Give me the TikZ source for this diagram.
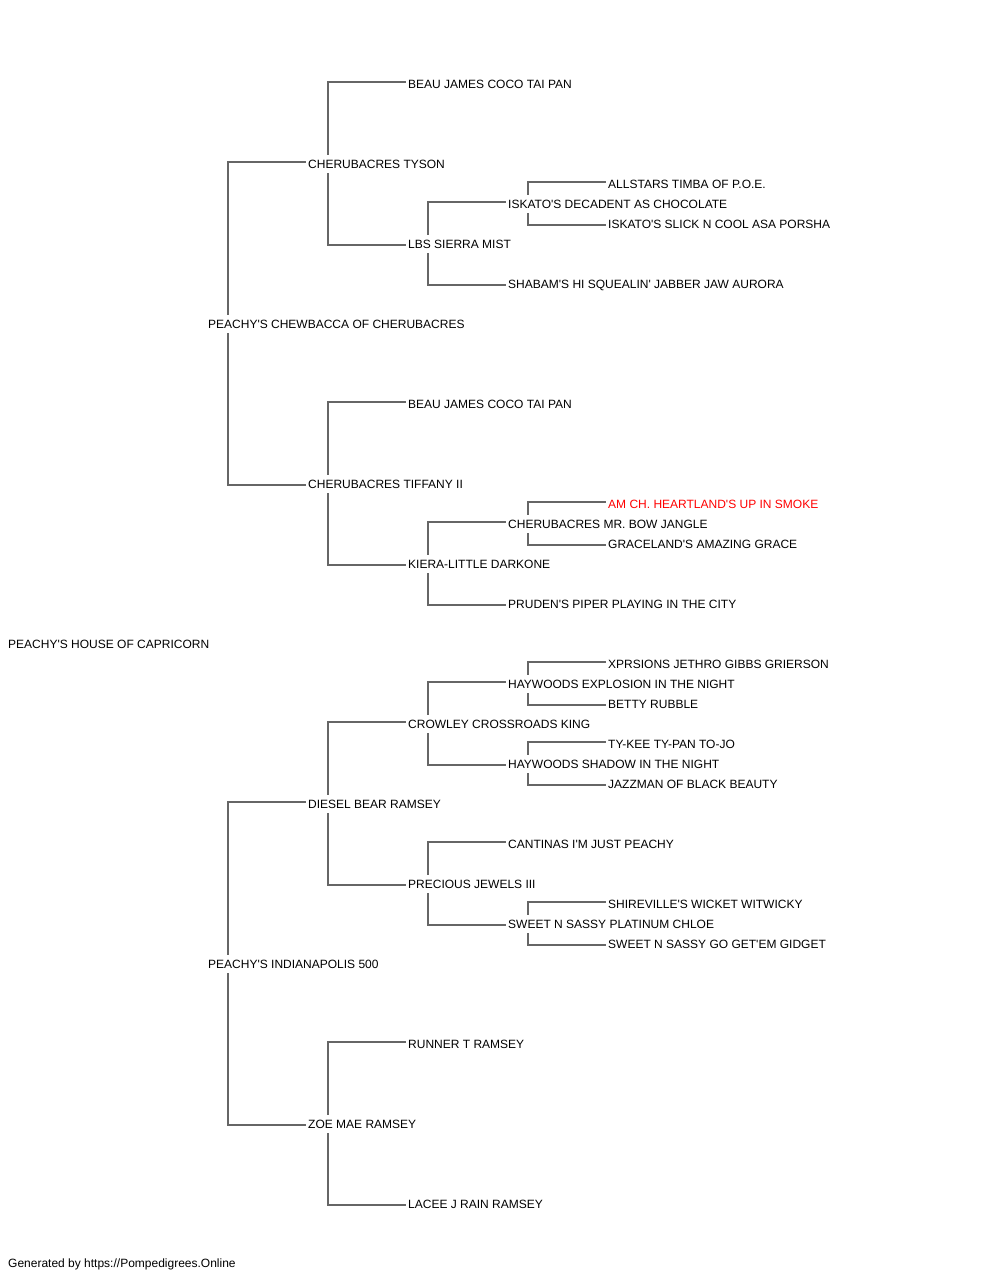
\documentclass[tikz,border=0pt]{standalone}
\usepackage{fontspec}
\setmainfont{Liberation Sans}[Ligatures=TeXOff]
\usepackage{tikz}

\definecolor{linegray}{HTML}{666666}
\definecolor{champred}{HTML}{FF0000}

\tikzset{
  dog/.style={anchor=west, inner xsep=2pt, inner ysep=0pt, minimum height=18pt,
    text height=8.6pt, text depth=0pt, font=\fontsize{12}{14}\selectfont},
  champ/.style={dog, text=champred},
  conn/.style={draw=linegray, line width=1.3pt}
}

% parent, sire, dam
\newcommand{\pedlink}[3]{%
  \draw[conn] ([xshift=22pt]#1.north west) |- ([yshift=2pt]#2.west);
  \draw[conn] ([xshift=22pt]#1.south west) |- ([yshift=-1pt]#3.west);
}

\begin{document}
\begin{tikzpicture}[x=1pt, y=-1pt]
    \useasboundingbox (0, 0) rectangle (1000, 1280);

    % Dog
    \node[dog] (root) at (6, 644) {PEACHY'S HOUSE OF CAPRICORN};

    % Parents
    \node[dog] (s) at (206, 324) {PEACHY'S CHEWBACCA OF CHERUBACRES};
    \node[dog] (d) at (206, 964) {PEACHY'S INDIANAPOLIS 500};

    % Grandparents
    \node[dog] (ss) at (306, 164) {CHERUBACRES TYSON};
    \node[dog] (sd) at (306, 484) {CHERUBACRES TIFFANY II};
    \node[dog] (ds) at (306, 804) {DIESEL BEAR RAMSEY};
    \node[dog] (dd) at (306, 1124) {ZOE MAE RAMSEY};

    % Great-grandparents
    \node[dog] (sss) at (406, 84) {BEAU JAMES COCO TAI PAN};
    \node[dog] (ssd) at (406, 244) {LBS SIERRA MIST};
    \node[dog] (sds) at (406, 404) {BEAU JAMES COCO TAI PAN};
    \node[dog] (sdd) at (406, 564) {KIERA-LITTLE DARKONE};
    \node[dog] (dss) at (406, 724) {CROWLEY CROSSROADS KING};
    \node[dog] (dsd) at (406, 884) {PRECIOUS JEWELS III};
    \node[dog] (dds) at (406, 1044) {RUNNER T RAMSEY};
    \node[dog] (ddd) at (406, 1204) {LACEE J RAIN RAMSEY};

    % 4th generation
    \node[dog] (ssds) at (506, 204) {ISKATO'S DECADENT AS CHOCOLATE};
    \node[dog] (ssdd) at (506, 284) {SHABAM'S HI SQUEALIN' JABBER JAW AURORA};
    \node[dog] (sdds) at (506, 524) {CHERUBACRES MR. BOW JANGLE};
    \node[dog] (sddd) at (506, 604) {PRUDEN'S PIPER PLAYING IN THE CITY};
    \node[dog] (dsss) at (506, 684) {HAYWOODS EXPLOSION IN THE NIGHT};
    \node[dog] (dssd) at (506, 764) {HAYWOODS SHADOW IN THE NIGHT};
    \node[dog] (dsds) at (506, 844) {CANTINAS I'M JUST PEACHY};
    \node[dog] (dsdd) at (506, 924) {SWEET N SASSY PLATINUM CHLOE};

    % 5th generation
    \node[dog] (ssdss) at (606, 184) {ALLSTARS TIMBA OF P.O.E.};
    \node[dog] (ssdsd) at (606, 224) {ISKATO'S SLICK N COOL ASA PORSHA};
    \node[champ] (sddss) at (606, 504) {AM CH. HEARTLAND'S UP IN SMOKE};
    \node[dog] (sddsd) at (606, 544) {GRACELAND'S AMAZING GRACE};
    \node[dog] (dssss) at (606, 664) {XPRSIONS JETHRO GIBBS GRIERSON};
    \node[dog] (dsssd) at (606, 704) {BETTY RUBBLE};
    \node[dog] (dssds) at (606, 744) {TY-KEE TY-PAN TO-JO};
    \node[dog] (dssdd) at (606, 784) {JAZZMAN OF BLACK BEAUTY};
    \node[dog] (dsdds) at (606, 904) {SHIREVILLE'S WICKET WITWICKY};
    \node[dog] (dsddd) at (606, 944) {SWEET N SASSY GO GET'EM GIDGET};

    % Lines
    \pedlink{s}{ss}{sd}
    \pedlink{d}{ds}{dd}
    \pedlink{ss}{sss}{ssd}
    \pedlink{sd}{sds}{sdd}
    \pedlink{ds}{dss}{dsd}
    \pedlink{dd}{dds}{ddd}
    \pedlink{ssd}{ssds}{ssdd}
    \pedlink{sdd}{sdds}{sddd}
    \pedlink{dss}{dsss}{dssd}
    \pedlink{dsd}{dsds}{dsdd}
    \pedlink{ssds}{ssdss}{ssdsd}
    \pedlink{sdds}{sddss}{sddsd}
    \pedlink{dsss}{dssss}{dsssd}
    \pedlink{dssd}{dssds}{dssdd}
    \pedlink{dsdd}{dsdds}{dsddd}

    % Footer
    \node[dog, text depth=2.5pt] (credit) at (6, 1264) {Generated by https://Pompedigrees.Online};
\end{tikzpicture}
\end{document}
